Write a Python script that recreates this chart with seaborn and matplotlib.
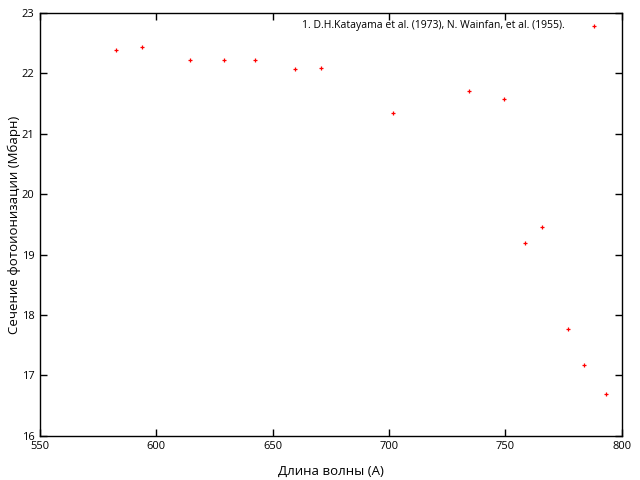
import matplotlib
matplotlib.use('Agg')
import matplotlib.pyplot as plt
import pandas as pd
import seaborn as sns

# wavelength (A) and photoionization cross-section (Mbarn)
wavelength = [582.6, 593.8, 614.4, 629.0, 642.4, 659.5, 670.7, 701.6,
              734.3, 749.3, 758.6, 765.9, 777.0, 783.8, 793.3]
cross_section = [22.39, 22.44, 22.22, 22.22, 22.22, 22.07, 22.09, 21.35,
                 21.70, 21.58, 19.19, 19.46, 17.77, 17.18, 16.70]
series_label = '1. D.H.Katayama et al. (1973), N. Wainfan, et al. (1955).'

x_ticks = [550, 600, 650, 700, 750, 800]
y_ticks = [16, 17, 18, 19, 20, 21, 22, 23]

sns.set_style('ticks')
plt.rcParams['font.family'] = ['Open Sans', 'DejaVu Sans']
plt.rcParams['text.color'] = 'black'
plt.rcParams['axes.labelcolor'] = 'black'
plt.rcParams['xtick.color'] = 'black'
plt.rcParams['ytick.color'] = 'black'

df = pd.DataFrame({'x': wavelength, 'y': cross_section})

fig = plt.figure(figsize=(6.4, 4.8), dpi=100)
ax = fig.add_axes([0.0625, 0.092, 0.909, 0.881])

sns.scatterplot(x='x', y='y', data=df, ax=ax, marker='+', color='red',
                s=10, linewidth=0.9, label=series_label)

ax.set_xlim(550, 800)
ax.set_ylim(16, 23)
ax.set_xticks(x_ticks)
ax.set_yticks(y_ticks)
ax.tick_params(direction='in', top=True, right=True, length=5, width=1,
               labelsize=8, pad=4, color='black', labelcolor='black')
for sp in ax.spines.values():
    sp.set_visible(True)
    sp.set_linewidth(1)
    sp.set_color('black')
ax.set_xlabel('Длина волны (А)', fontsize=9.5, labelpad=9)
ax.set_ylabel('Сечение фотоионизации (Мбарн)', fontsize=9.5)
ax.yaxis.set_label_coords(-0.032, 0.5)

ax.legend(loc='upper right', markerfirst=False, frameon=False, fontsize=7.5,
          handlelength=1.5, handletextpad=2.0, borderaxespad=0.3,
          bbox_to_anchor=(0.978, 1.0))

fig.savefig('out.png', dpi=100)
